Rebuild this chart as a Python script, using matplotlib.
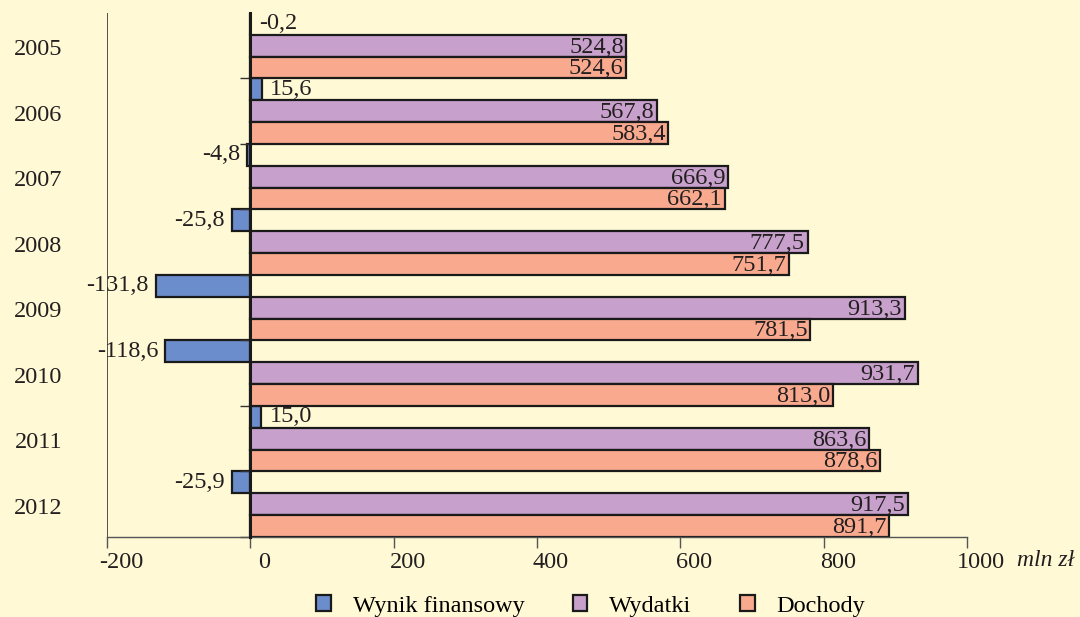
import numpy as np
import matplotlib
matplotlib.use("Agg")
import matplotlib.pyplot as plt
import matplotlib.transforms as mtransforms

plt.rcParams['font.family'] = ['Liberation Serif', 'DejaVu Serif']

YEARS = ["2005", "2006", "2007", "2008", "2009", "2010", "2011", "2012"]
WYNIK = [-0.2, 15.6, -4.8, -25.8, -131.8, -118.6, 15.0, -25.9]
WYDATKI = [524.8, 567.8, 666.9, 777.5, 913.3, 931.7, 863.6, 917.5]
DOCHODY = [524.6, 583.4, 662.1, 751.7, 781.5, 813.0, 878.6, 891.7]
XTICKS = [-200, 0, 200, 400, 600, 800, 1000]

BG = "#FFF9D5"
C_BLUE = "#6B8DCB"
C_PURPLE = "#C8A0CC"
C_ORANGE = "#F9AA8E"
FS = 17.5


def fmt(v):
    return f"{v:.1f}".replace(".", ",")


fig = plt.figure(figsize=(10.8, 6.17), dpi=100, facecolor=BG)
ax = fig.add_axes([0.0991, 0.1297, 0.7963, 0.8493])
ax.set_facecolor(BG)

y = np.arange(len(YEARS))
h = 1 / 3
b1 = ax.barh(y - h, WYNIK, height=h, color=C_BLUE, edgecolor="#1a1a1a", linewidth=1.6, label="Wynik finansowy")
b2 = ax.barh(y, WYDATKI, height=h, color=C_PURPLE, edgecolor="#1a1a1a", linewidth=1.6, label="Wydatki")
b3 = ax.barh(y + h, DOCHODY, height=h, color=C_ORANGE, edgecolor="#1a1a1a", linewidth=1.6, label="Dochody")

ax.set_xlim(-200, 1000)
ax.set_ylim(len(YEARS) - 0.5, -0.5)

# value labels
for yi, v in zip(y, WYNIK):
    if v > -1:
        ax.annotate(fmt(v), (max(v, 0), yi - h), xytext=(6, 0), textcoords="offset points",
                    ha="left", va="center", fontsize=FS, color="#231f20")
    else:
        ax.annotate(fmt(v), (v, yi - h), xytext=(-5, 0), textcoords="offset points",
                    ha="right", va="center", fontsize=FS, color="#231f20")
for yi, v in zip(y, WYDATKI):
    ax.annotate(fmt(v), (v, yi), xytext=(-2, -1), textcoords="offset points",
                ha="right", va="center", fontsize=FS, color="#231f20")
for yi, v in zip(y, DOCHODY):
    ax.annotate(fmt(v), (v, yi + h), xytext=(-2, -1), textcoords="offset points",
                ha="right", va="center", fontsize=FS, color="#231f20")

# axes styling
for s in ["top", "right"]:
    ax.spines[s].set_visible(False)
ax.spines["left"].set_position(("data", 0))
ax.spines["left"].set_linewidth(2.2)
ax.spines["left"].set_color("#1a1a1a")
ax.spines["left"].set_zorder(5)
ax.spines["bottom"].set_color("#555555")
ax.spines["bottom"].set_linewidth(1.0)
ax.axvline(-200, color="#333333", lw=1.2)

ax.set_yticks([])
ax.set_yticks(np.arange(1, len(YEARS) + 1) - 0.5, minor=True)
ax.tick_params(axis="y", which="minor", length=7, width=1, color="#333333")

ax.set_xticks(XTICKS)
ax.set_xticklabels([str(t) for t in XTICKS], fontsize=FS, color="#231f20")
ax.tick_params(axis="x", length=8, width=1, color="#555555", pad=2.5)
shift = mtransforms.ScaledTranslation(14 / 100, 0, fig.dpi_scale_trans)
for lab in ax.get_xticklabels():
    lab.set_transform(lab.get_transform() + shift)

ax.text(1.058, -0.045, "mln zł", transform=ax.transAxes, fontsize=FS - 0.5, style="italic",
        ha="left", va="center", color="#231f20")

trans = mtransforms.blended_transform_factory(ax.transAxes, ax.transData)
for yi, yr in zip(y, YEARS):
    ax.text(-0.080, yi + 0.06, yr, transform=trans, ha="center", va="center",
            fontsize=FS, color="#231f20")

fig.legend(handles=[b1, b2, b3], loc="center", bbox_to_anchor=(0.547, 0.018), ncol=3,
           frameon=False, fontsize=FS, handlelength=0.6, handleheight=0.6,
           handletextpad=0.9, columnspacing=2.0)

fig.savefig("out.png", dpi=100, facecolor=BG)
